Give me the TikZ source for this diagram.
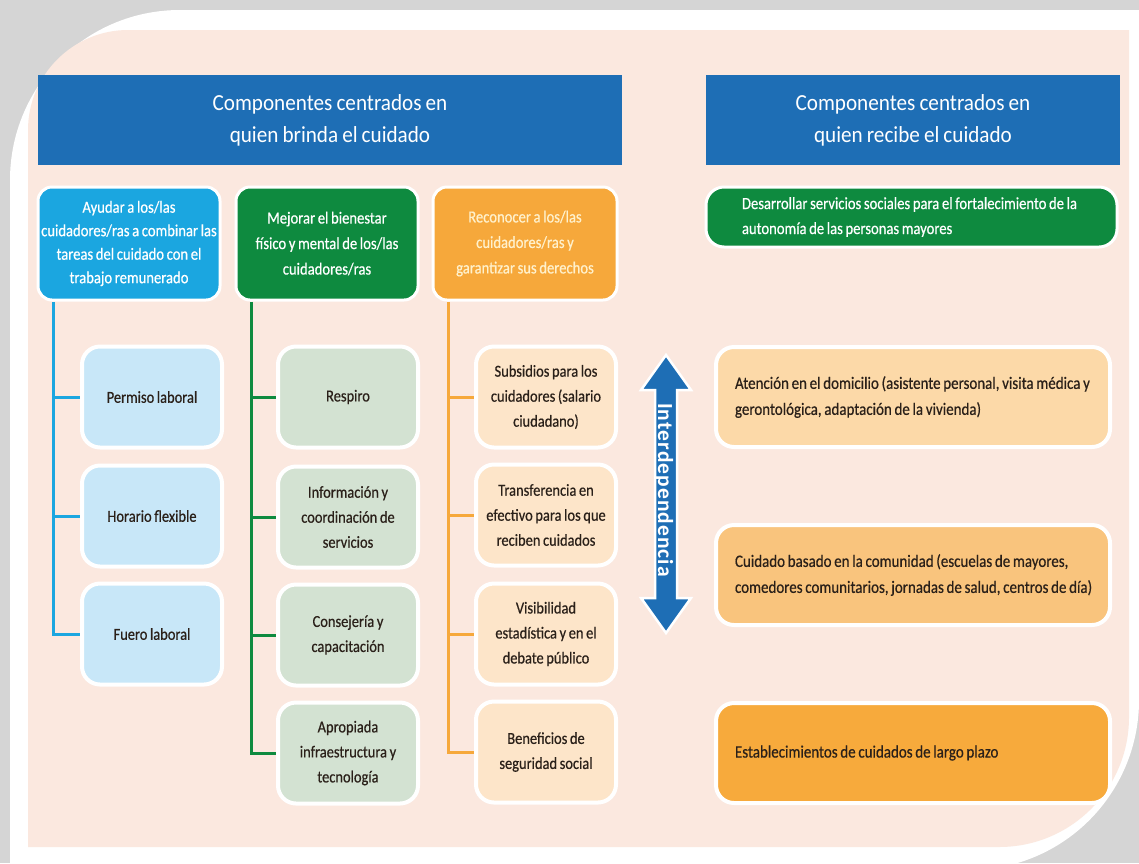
\documentclass[tikz,border=0pt]{standalone}
\usepackage{fontspec}
\setmainfont{Carlito}[FakeStretch=0.86, FakeBold=0.5, WordSpace=0.8]
\newfontfamily\hfont{Carlito}[FakeStretch=0.92, WordSpace=0.85]
\newfontfamily\afont{Carlito}[LetterSpace=5]
\usetikzlibrary{backgrounds}
\definecolor{bggray}{HTML}{D5D5D5}
\definecolor{peach}{HTML}{FBE8DF}
\definecolor{hblue}{HTML}{1E6EB5}
\definecolor{cyanb}{HTML}{1BA6E0}
\definecolor{grn}{HTML}{0E8A3F}
\definecolor{org}{HTML}{F6A83B}
\definecolor{lblue}{HTML}{C8E7F8}
\definecolor{sage}{HTML}{D3E2D2}
\definecolor{lpeach}{HTML}{FDE5C9}
\definecolor{rboxa}{HTML}{FCD9A8}
\definecolor{rboxb}{HTML}{F9C47D}
\definecolor{rboxc}{HTML}{F7AA3C}
\definecolor{txt}{HTML}{2A2019}
\definecolor{cream}{HTML}{FFF1CC}
\begin{document}
\begin{tikzpicture}[x=1pt,y=-1pt,
  hdr/.style={fill=hblue, text=white, align=center, inner sep=0pt,
    font=\hfont\fontsize{23}{32}\selectfont},
  colhead/.style={rounded corners=14pt, draw=white, line width=3pt,
    minimum width=182pt, minimum height=113pt, align=center, inner sep=0pt,
    font=\fontsize{17}{23.5}\selectfont, text=white},
  child/.style={rounded corners=18pt, draw=white, line width=4pt,
    minimum width=140pt, minimum height=101pt, align=center, inner sep=0pt,
    font=\fontsize{16.8}{25}\selectfont, text=txt},
  rbox/.style={rounded corners=18pt, draw=white, line width=4pt,
    minimum width=394pt, minimum height=100pt, text width=356pt, inner xsep=19pt,
    align=flush left, font=\fontsize{17.4}{26}\selectfont, text=txt},
  branch/.style={line width=3pt}
]
\useasboundingbox (0,0) rectangle (1139,863);
\begin{pgfonlayer}{background}
\fill[bggray] (0,0) rectangle (1139,863);
\fill[white] (10,880) -- (10,180) .. controls (10,86) and (86,10) .. (180,10)
  -- (1139,10) -- (1139,700) .. controls (1139,794) and (1063,870) .. (969,870) -- cycle;
\fill[peach] (28,847) -- (28,130) .. controls (28,75) and (73,30) .. (128,30)
  -- (1129,30) -- (1129,717) .. controls (1129,789) and (1071,847) .. (999,847) -- cycle;
\end{pgfonlayer}

% main headers
\node[hdr, minimum width=584pt, minimum height=90pt] (hl) at (330,120)
  {Componentes centrados en\\quien brinda el cuidado};
\node[hdr, minimum width=414pt, minimum height=90pt] (hr) at (913,120)
  {Componentes centrados en\\quien recibe el cuidado};

% column headers
\node[colhead, fill=cyanb] (bh) at (129,243.5)
  {Ayudar a los/las\\cuidadores/ras a combinar las\\tareas del cuidado con el\\trabajo remunerado};
\node[colhead, fill=grn, font=\fontsize{17}{25.5}\selectfont] (gh) at (327,243.5)
  {Mejorar el bienestar\\físico y mental de los/las\\cuidadores/ras};
\node[colhead, fill=org, text=cream, minimum width=184pt, font=\fontsize{17}{25.5}\selectfont] (oh) at (525,243.5)
  {Reconocer a los/las\\cuidadores/ras y\\garantizar sus derechos};

% blue children
\node[child, fill=lblue] (b1) at (152,397) {Permiso laboral};
\node[child, fill=lblue] (b2) at (152,516) {Horario flexible};
\node[child, fill=lblue] (b3) at (152,634) {Fuero laboral};

% green children
\node[child, fill=sage] (g1) at (348,397) {Respiro};
\node[child, fill=sage] (g2) at (348,517) {Información y\\coordinación de\\servicios};
\node[child, fill=sage] (g3) at (348,635) {Consejería y\\capacitación};
\node[child, fill=sage] (g4) at (348,753) {Apropiada\\infraestructura y\\tecnología};

% orange children
\node[child, fill=lpeach] (o1) at (546,397) {Subsidios para los\\cuidadores (salario\\ciudadano)};
\node[child, fill=lpeach] (o2) at (546,515) {Transferencia en\\efectivo para los que\\reciben cuidados};
\node[child, fill=lpeach] (o3) at (546,634) {Visibilidad\\estadística y en el\\debate público};
\node[child, fill=lpeach] (o4) at (546,752) {Beneficios de\\seguridad social};

% right column
\node[rounded corners=18pt, draw=white, line width=3pt, fill=grn, text=white,
  minimum width=411pt, minimum height=60pt, text width=339pt, inner xsep=36pt,
  align=flush left, font=\fontsize{17}{25}\selectfont] (rg) at (911.5,217)
  {\mbox{Desarrollar servicios sociales para el fortalecimiento de la}\\\mbox{autonomía de las personas mayores}};
\node[rbox, fill=rboxa] (r1) at (913,397)
  {\mbox{Atención en el domicilio (asistente personal, visita médica y}\\\mbox{gerontológica, adaptación de la vivienda)}};
\node[rbox, fill=rboxb] (r2) at (913,575)
  {\mbox{Cuidado basado en la comunidad (escuelas de mayores,}\\\mbox{comedores comunitarios, jornadas de salud, centros de día)}};
\node[rbox, fill=rboxc] (r3) at (913,753)
  {\mbox{Establecimientos de cuidados de largo plazo}};

% double arrow
\filldraw[fill=hblue, draw=white, line width=2.5pt, line join=miter]
  (666,355) -- (691,390) -- (677,390) -- (677,598) -- (691,598) -- (666,633)
  -- (641,598) -- (655,598) -- (655,390) -- (641,390) -- cycle;
\node[rotate=-90, text=white, inner sep=0pt,
  font=\afont\bfseries\fontsize{21.5}{21.5}\selectfont] (itx) at (664,490) {Interdependencia};

% connectors
\coordinate (bt) at ([xshift=17pt]bh.south west);
\coordinate (gt) at ([xshift=17pt]gh.south west);
\coordinate (ot) at ([xshift=17pt]oh.south west);
\begin{pgfonlayer}{background}
\draw[branch, cyanb] (bt) |- (b1.west) (bt) |- (b2.west) (bt) |- (b3.west);
\draw[branch, grn] (gt) |- (g1.west) (gt) |- (g2.west) (gt) |- (g3.west) (gt) |- (g4.west);
\draw[branch, org] (ot) |- (o1.west) (ot) |- (o2.west) (ot) |- (o3.west) (ot) |- (o4.west);
\end{pgfonlayer}
\end{tikzpicture}
\end{document}
